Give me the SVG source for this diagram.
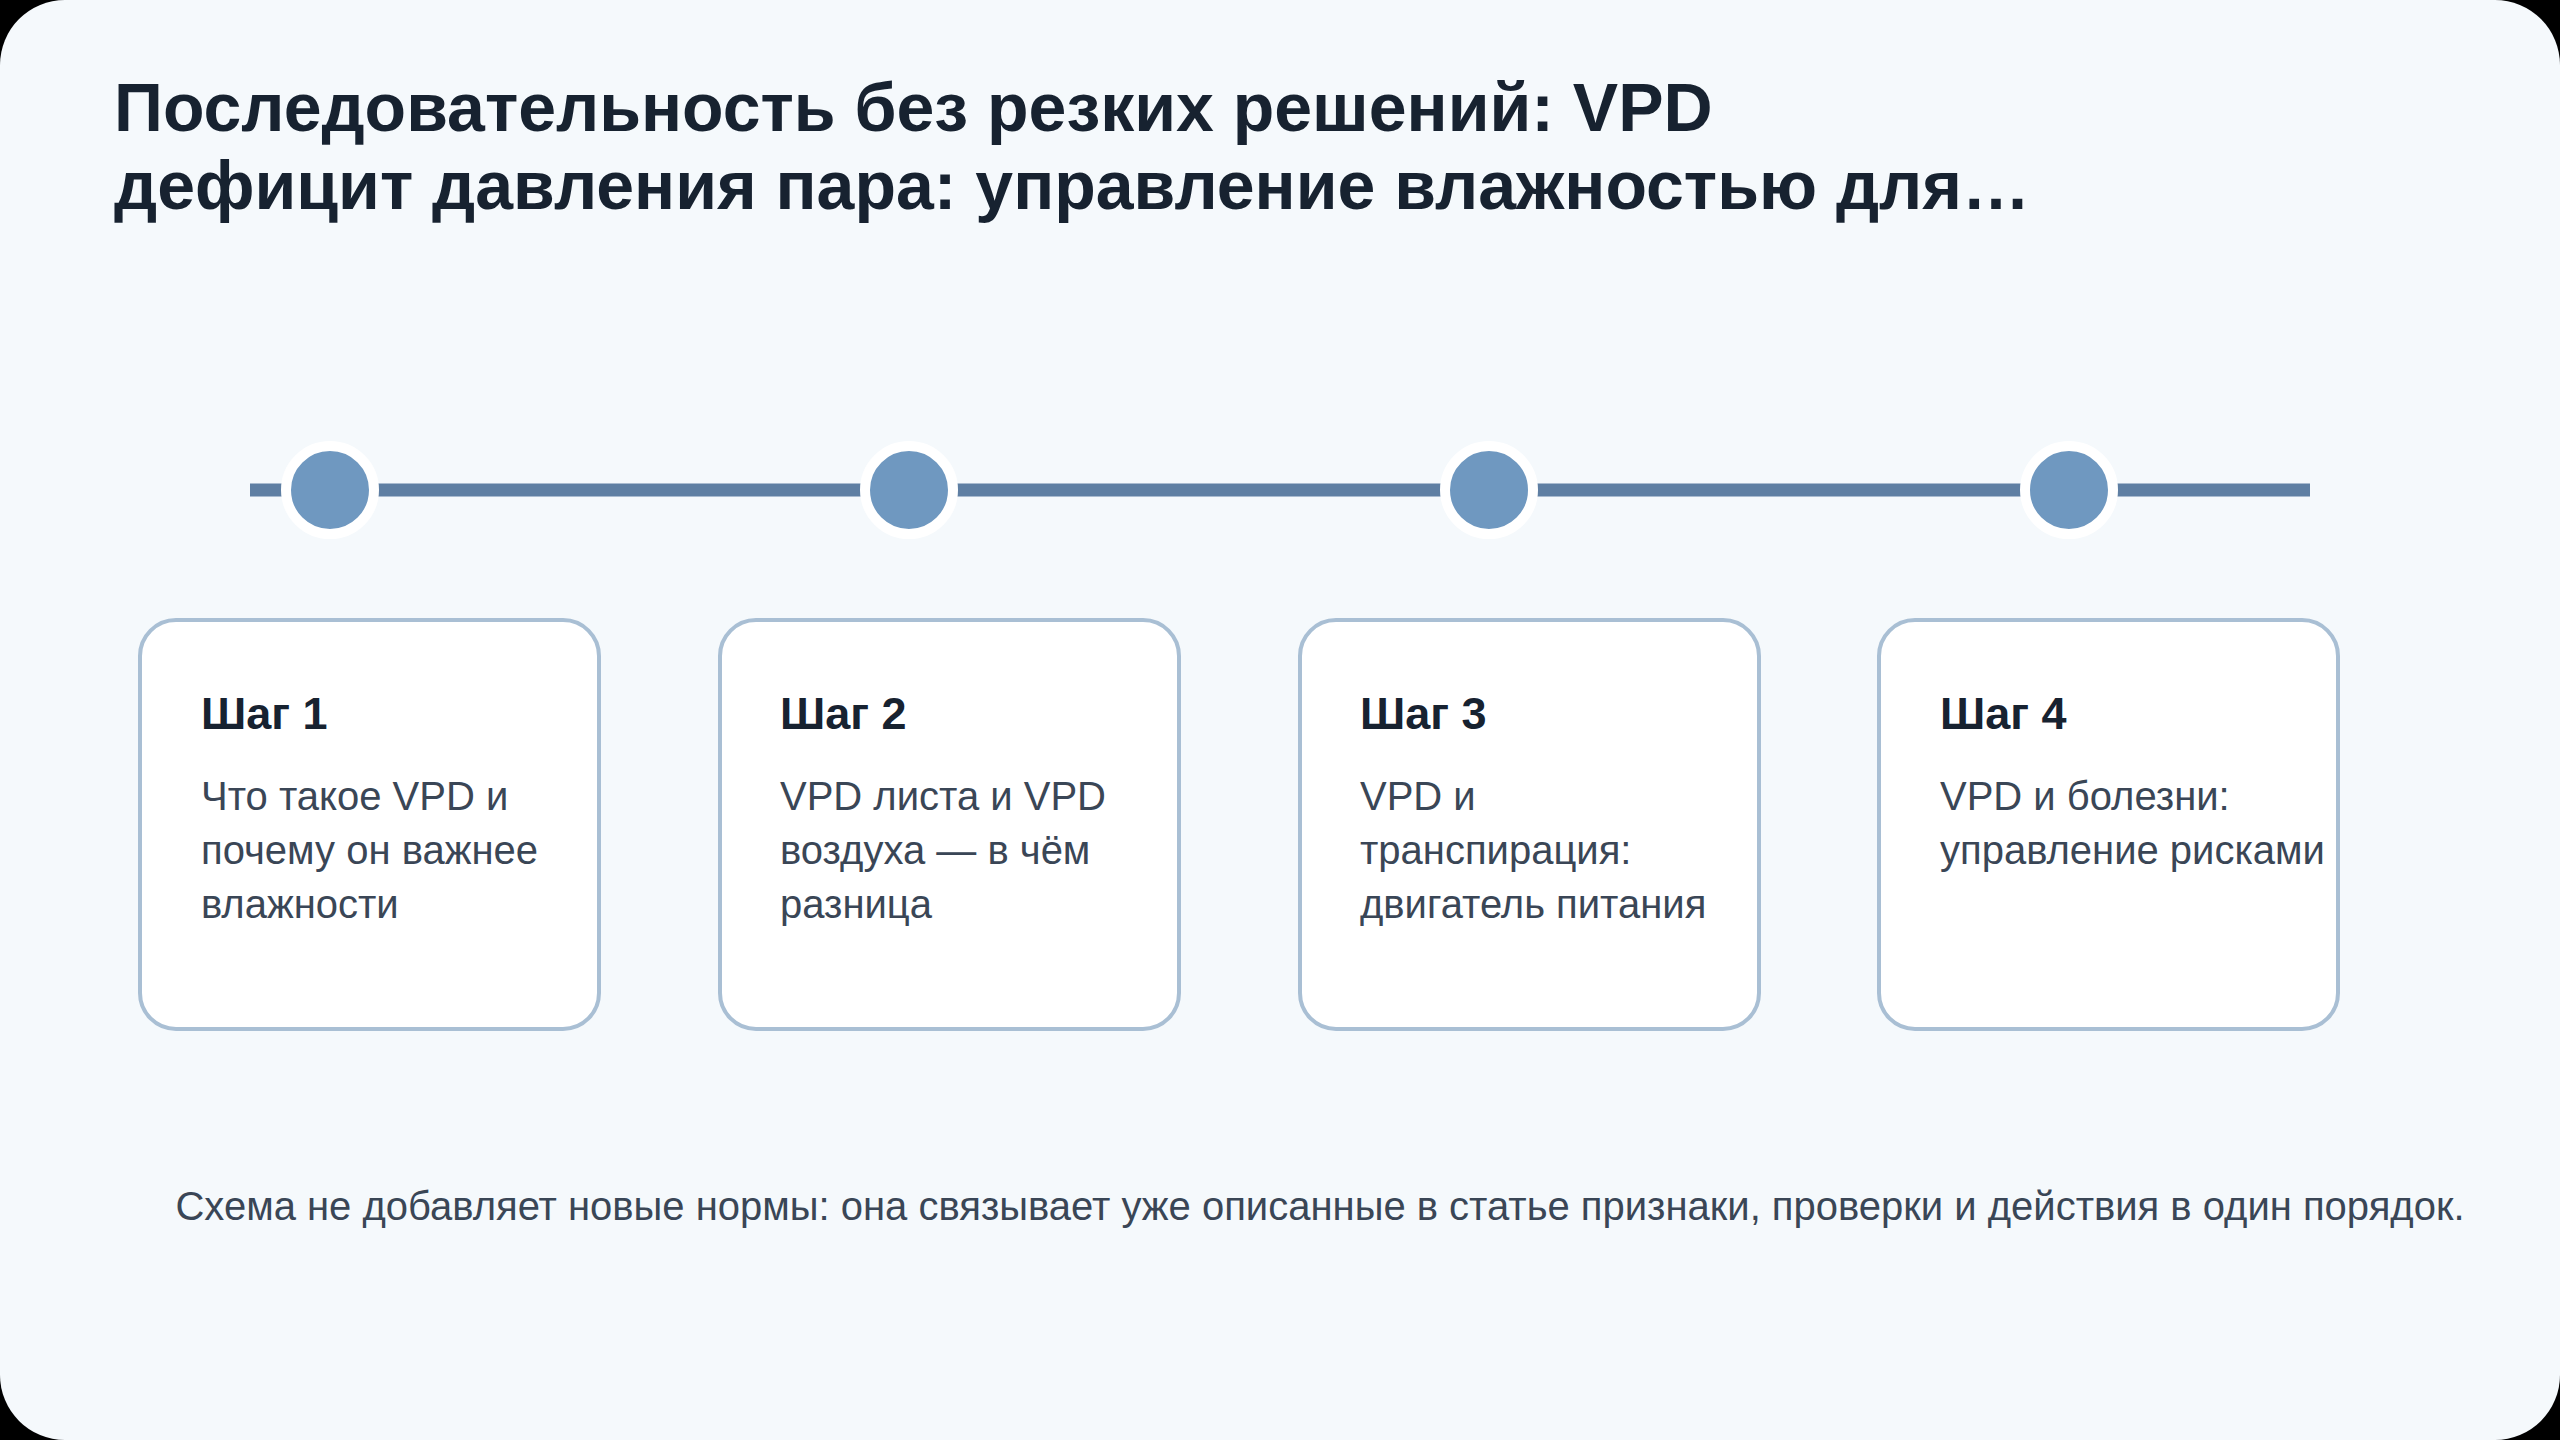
<svg xmlns="http://www.w3.org/2000/svg" width="2560" height="1440" viewBox="0 0 2560 1440">
<style>
.title{font-family:"Liberation Sans",Arial,sans-serif;font-weight:bold;font-size:68px;fill:#172230}
.card{fill:#ffffff;stroke:#a9bfd4;stroke-width:4}
.step{font-family:"Liberation Sans",Arial,sans-serif;font-weight:bold;font-size:45px;fill:#172230}
.body{font-family:"Liberation Sans",Arial,sans-serif;font-size:40px;fill:#3a4656}
.dot{fill:#6f98c0;stroke:#ffffff;stroke-width:10}
.foot{font-family:"Liberation Sans",Arial,sans-serif;font-size:40px;fill:#3a4656}
</style>
<rect width="2560" height="1440" fill="#000"/>
<rect width="2560" height="1440" rx="65" fill="#f5f9fc"/>
<text class="title" x="114" y="131">Последовательность без резких решений: VPD</text>
<text class="title" x="114" y="209">дефицит давления пара: управление влажностью для…</text>
<g id="connectors">
<line x1="250" y1="490" x2="2310" y2="490" stroke="#5f7fa3" stroke-width="13"/>
</g>
<g id="step1"><circle class="dot" cx="330" cy="490" r="44"/>
<rect class="card" x="140" y="620" width="459" height="409" rx="36"/>
<text class="step" x="201" y="729">Шаг 1</text>
<text class="body" x="201" y="810">Что такое VPD и</text><text class="body" x="201" y="864">почему он важнее</text><text class="body" x="201" y="918">влажности</text></g>
<g id="step2"><circle class="dot" cx="909" cy="490" r="44"/>
<rect class="card" x="720" y="620" width="459" height="409" rx="36"/>
<text class="step" x="780" y="729">Шаг 2</text>
<text class="body" x="780" y="810">VPD листа и VPD</text><text class="body" x="780" y="864">воздуха — в чём</text><text class="body" x="780" y="918">разница</text></g>
<g id="step3"><circle class="dot" cx="1489" cy="490" r="44"/>
<rect class="card" x="1300" y="620" width="459" height="409" rx="36"/>
<text class="step" x="1360" y="729">Шаг 3</text>
<text class="body" x="1360" y="810">VPD и</text><text class="body" x="1360" y="864">транспирация:</text><text class="body" x="1360" y="918">двигатель питания</text></g>
<g id="step4"><circle class="dot" cx="2069" cy="490" r="44"/>
<rect class="card" x="1879" y="620" width="459" height="409" rx="36"/>
<text class="step" x="1940" y="729">Шаг 4</text>
<text class="body" x="1940" y="810">VPD и болезни:</text><text class="body" x="1940" y="864">управление рисками</text></g>
<text class="foot" x="1320" y="1220" text-anchor="middle">Схема не добавляет новые нормы: она связывает уже описанные в статье признаки, проверки и действия в один порядок.</text>
</svg>
